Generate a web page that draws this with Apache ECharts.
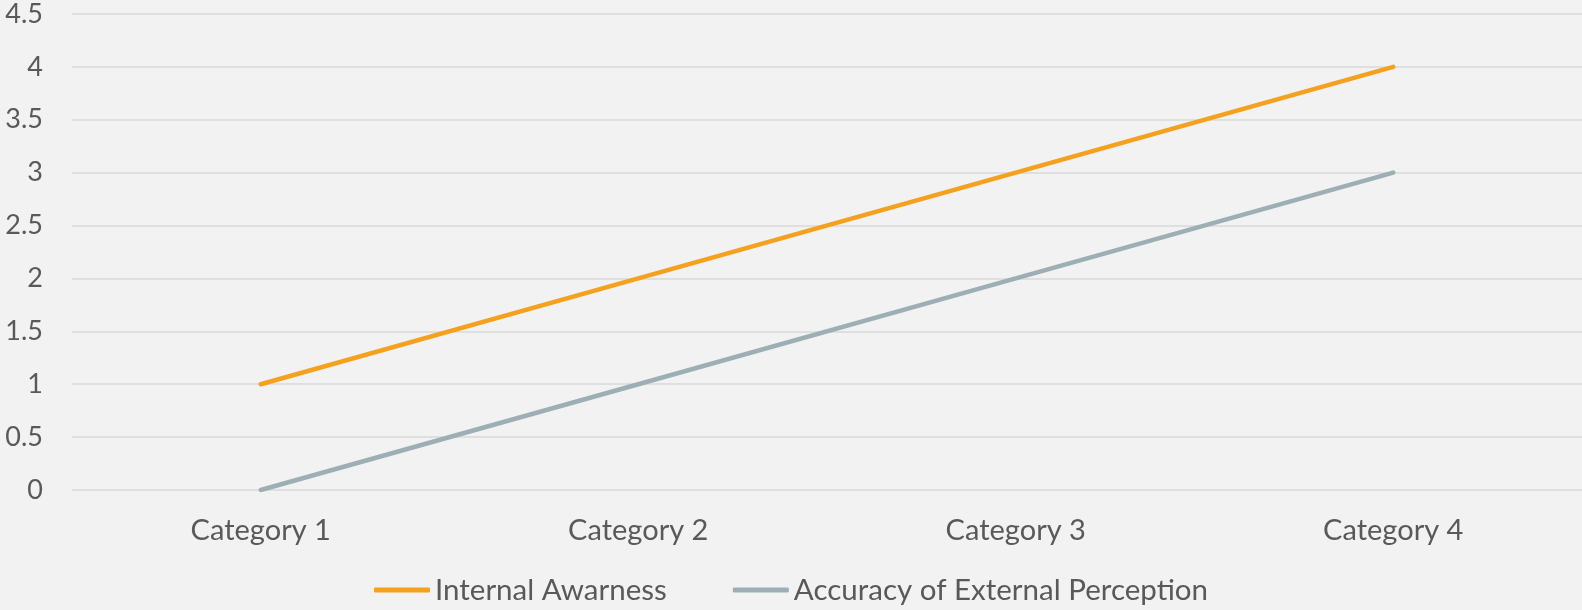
<!DOCTYPE html>
<html>
<head>
<meta charset="utf-8">
<script src="https://cdn.jsdelivr.net/npm/echarts@6/dist/echarts.min.js"></script>
<style>
  html, body { margin: 0; padding: 0; background: #F2F2F2; }
  #chart { width: 1582px; height: 610px; }
</style>
</head>
<body>
<div id="chart"></div>
<script>
// Chart data
const categories = ['Category 1', 'Category 2', 'Category 3', 'Category 4'];
const internalAwareness = [1, 2, 3, 4];
const externalAccuracy = [0, 1, 2, 3];
const seriesNames = ['Internal Awarness', 'Accuracy of External Perception'];

const FONT = 'Lato, "Open Sans", sans-serif';
const TEXT = '#595959';

const chart = echarts.init(document.getElementById('chart'));
chart.setOption({
  backgroundColor: '#F2F2F2',
  animation: false,
  grid: { left: 72, right: 0, top: 14, bottom: 120, containLabel: false },
  xAxis: {
    type: 'category',
    data: categories,
    boundaryGap: true,
    axisLine: { show: false },
    axisTick: { show: false },
    axisLabel: { color: TEXT, fontFamily: FONT, fontSize: 29, margin: 26 }
  },
  yAxis: {
    type: 'value',
    min: 0,
    max: 4.5,
    interval: 0.5,
    axisLine: { show: false },
    axisTick: { show: false },
    axisLabel: { color: TEXT, fontFamily: FONT, fontSize: 27, margin: 29 },
    splitLine: { lineStyle: { color: '#D9D9D9', width: 1.5 } }
  },
  legend: {
    bottom: 0,
    left: 'center',
    icon: 'roundRect',
    itemWidth: 56,
    itemHeight: 5,
    itemGap: 66,
    textStyle: { color: TEXT, fontFamily: FONT, fontSize: 29.5 },
    data: seriesNames
  },
  series: [
    {
      name: seriesNames[0],
      type: 'line',
      data: internalAwareness,
      showSymbol: false,
      symbol: 'none',
      color: '#F4A11F',
      lineStyle: { width: 4.5, color: '#F4A11F', cap: 'round' }
    },
    {
      name: seriesNames[1],
      type: 'line',
      data: externalAccuracy,
      showSymbol: false,
      symbol: 'none',
      color: '#9DAFB4',
      lineStyle: { width: 4.5, color: '#9DAFB4', cap: 'round' }
    }
  ]
});
</script>
</body>
</html>
